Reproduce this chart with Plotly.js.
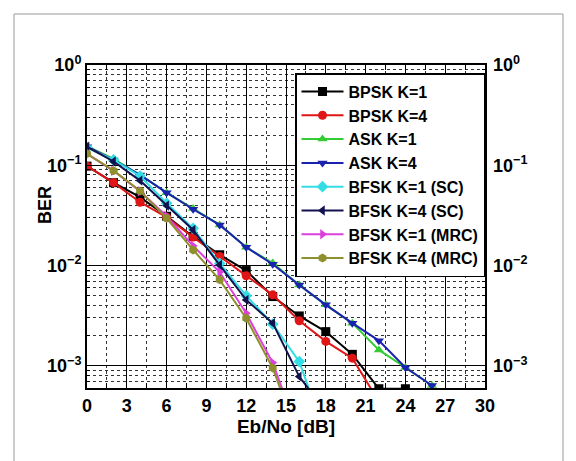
<!DOCTYPE html>
<html><head><meta charset="utf-8">
<script src="https://cdn.plot.ly/plotly-3.0.1.min.js"></script>
<style>html,body{margin:0;padding:0;background:#fff}#chart{width:576px;height:461px}</style>
</head><body><div id="chart"></div>
<script>
// Eb/No values (dB)
const ebno = [0, 2, 4, 6, 8, 10, 12, 14, 16, 18, 20, 22, 24, 26];

// BER values
const bpskK1   = [0.098, 0.067, 0.048, 0.031, 0.0195, 0.0128, 0.0089, 0.0049, 0.00314, 0.00219, 0.0013, 0.00059, 0.00059];
const bpskK4   = [0.098, 0.0671, 0.0428, 0.0303, 0.0192, 0.0123, 0.0079, 0.0051, 0.00281, 0.00175, 0.00119, 0.00044];
const askK1    = [0.155, 0.116, 0.080, 0.0533, 0.037, 0.0254, 0.0152, 0.0106, 0.0064, 0.00405, 0.00266, 0.00144, 0.00096, 0.000635];
const askK4    = [0.153, 0.113, 0.080, 0.0533, 0.0364, 0.0254, 0.0152, 0.0103, 0.0064, 0.00405, 0.00266, 0.00178, 0.00096, 0.000635];
const bfskK1SC = [0.150, 0.113, 0.078, 0.0418, 0.0235, 0.0105, 0.0050, 0.0026, 0.0011, 0.0002];
const bfskK4SC = [0.153, 0.109, 0.0703, 0.0396, 0.0226, 0.0101, 0.00454, 0.00266, 0.00078, 0.00035];
const bfskK1MRC = [0.13, 0.088, 0.055, 0.031, 0.0157, 0.0086, 0.00334, 0.00107, 0.0002];
const bfskK4MRC = [0.13, 0.0883, 0.0555, 0.0296, 0.0143, 0.0072, 0.00298, 0.00095, 0.00018];

const seriesNames = ['BPSK K=1', 'BPSK K=4', 'ASK K=1', 'ASK K=4', 'BFSK K=1 (SC)', 'BFSK K=4 (SC)', 'BFSK K=1 (MRC)', 'BFSK K=4 (MRC)'];
const seriesData = [bpskK1, bpskK4, askK1, askK4, bfskK1SC, bfskK4SC, bfskK1MRC, bfskK4MRC];
const colors = ['#000000', '#e01515', '#33cc33', '#1c22b0', '#33dde6', '#12124f', '#dd3fdd', '#8f8f2e'];
const symbols = ['square', 'circle', 'triangle-up', 'triangle-down', 'diamond', 'triangle-left', 'triangle-right', 'hexagon'];

const xTicks = [0, 3, 6, 9, 12, 15, 18, 21, 24, 27, 30];
const yTickVals = [1, 0.1, 0.01, 0.001];
const yTickText = ['10<sup>0</sup>', '10<sup>\u22121</sup>', '10<sup>\u22122</sup>', '10<sup>\u22123</sup>'];

const traces = seriesData.map((d, i) => ({
  x: ebno.slice(0, d.length),
  y: d,
  name: seriesNames[i],
  type: 'scatter',
  mode: 'lines+markers',
  line: {color: colors[i], width: 2},
  marker: {color: colors[i], symbol: symbols[i], size: 9},
  cliponaxis: true
}));
traces.push({x: [], y: [], yaxis: 'y2', showlegend: false, hoverinfo: 'skip', type: 'scatter'});

const fontFam = '"Liberation Sans", Arial, sans-serif';
const yRange = [Math.log10(6e-4), 0];

const layout = {
  width: 576, height: 461,
  margin: {l: 87, r: 91, t: 65, b: 73, pad: 0},
  paper_bgcolor: '#fff', plot_bgcolor: '#fff',
  font: {family: fontFam, size: 16, color: '#000', weight: 'bold'},
  showlegend: true,
  legend: {
    x: 1, xanchor: 'right', y: 0.975, yanchor: 'top',
    bgcolor: '#fff', bordercolor: '#000', borderwidth: 1.5,
    font: {family: fontFam, size: 16, color: '#000', weight: 'bold'},
    itemwidth: 42
  },
  xaxis: {
    range: [0, 30], tickmode: 'array', tickvals: xTicks,
    showline: true, linecolor: '#000', linewidth: 2, mirror: 'allticks',
    ticks: 'inside', ticklen: 5, tickcolor: '#000',
    showgrid: true, gridcolor: '#000', gridwidth: 1,
    zeroline: false,
    tickfont: {family: fontFam, size: 18, weight: 'bold'},
    minor: {dtick: 1.5, tick0: 0, showgrid: true, gridcolor: '#333', griddash: 'dot', gridwidth: 1, ticks: 'inside', ticklen: 3, tickcolor: '#000'},
    title: {text: 'Eb/No [dB]', font: {family: fontFam, size: 19, weight: 'bold'}, standoff: 3}
  },
  yaxis: {
    type: 'log', range: yRange, tickmode: 'array', tickvals: yTickVals, ticktext: yTickText,
    showline: true, linecolor: '#000', linewidth: 2, mirror: 'allticks',
    ticks: 'inside', ticklen: 5, tickcolor: '#000',
    showgrid: true, gridcolor: '#000', gridwidth: 1,
    zeroline: false,
    tickfont: {family: fontFam, size: 18, weight: 'bold'},
    minor: {dtick: 'D1', showgrid: true, gridcolor: '#333', griddash: 'dot', gridwidth: 1, ticks: 'inside', ticklen: 3, tickcolor: '#000'}
  },
  yaxis2: {
    type: 'log', range: yRange, overlaying: 'y', side: 'right',
    tickmode: 'array', tickvals: yTickVals, ticktext: yTickText,
    showgrid: false, showline: false, zeroline: false, ticks: '',
    ticklabelstandoff: 7,
    tickfont: {family: fontFam, size: 18, weight: 'bold'}
  },
  annotations: [{
    text: 'BER', xref: 'paper', yref: 'paper',
    x: (45 - 87) / 398, y: (388 - 205) / 323,
    xanchor: 'center', yanchor: 'middle', textangle: -90, showarrow: false,
    font: {family: fontFam, size: 18, weight: 'bold', color: '#000'}
  }],
  shapes: [{
    type: 'rect', xref: 'paper', yref: 'paper',
    x0: (14 - 87) / 398, x1: (563 - 87) / 398,
    y0: (388 - 470) / 323, y1: (388 - 14) / 323,
    line: {color: '#999', width: 1}, layer: 'below'
  }]
};

Plotly.newPlot('chart', traces, layout, {displayModeBar: false, staticPlot: true});
</script>
</body></html>
